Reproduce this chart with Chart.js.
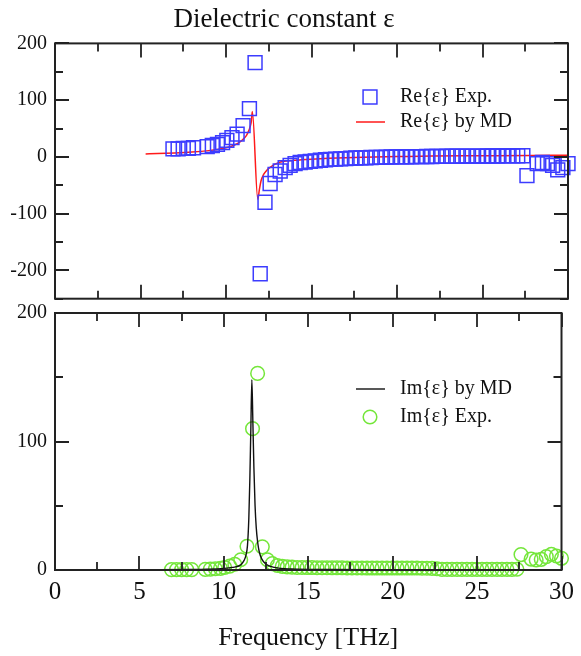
<!DOCTYPE html>
<html>
<head>
<meta charset="utf-8">
<script src="https://cdn.jsdelivr.net/npm/chart.js@4/dist/chart.umd.min.js"></script>
<style>
  body { margin: 0; background: #fff; }
  #wrap { position: relative; width: 581px; height: 656px; }
  canvas { position: absolute; left: 0; }
  #reChart { top: 0; }
  #imChart { top: 300px; }
</style>
</head>
<body>
<div id="wrap">
  <canvas id="imChart" width="581" height="356"></canvas>
  <canvas id="reChart" width="581" height="310"></canvas>
</div>
<script>
// experimental points (same frequencies for Re and Im)
const expFreq = [
  6.9, 7.2, 7.5, 7.8, 8.1,
  8.9, 9.2, 9.5, 9.8, 10.05, 10.35, 10.65, 11.0, 11.37, 11.7, 12.0, 12.28, 12.58,
  12.87, 13.17, 13.46, 13.75, 14.04,
  14.34, 14.63, 14.93, 15.22, 15.52, 15.82, 16.11, 16.41, 16.7, 17.0, 17.3, 17.59,
  17.89, 18.18, 18.48, 18.78, 19.07, 19.37, 19.66, 19.96, 20.26, 20.55, 20.85, 21.14,
  21.44, 21.74, 22.03, 22.33, 22.62, 22.92, 23.22, 23.51, 23.81, 24.1, 24.4, 24.7,
  24.99, 25.29, 25.58, 25.88, 26.18, 26.47, 26.77, 27.06, 27.36,
  27.6, 28.2, 28.5, 28.8, 29.1, 29.4, 29.7, 30.0
];
const reExp = [
  14, 14, 15, 15, 16,
  18, 20, 22, 25, 29, 34, 40, 55, 85, 166, -206, -80, -47,
  -31, -25, -19, -15, -12,
  -10, -9, -8, -7, -6, -5, -4.5, -4, -3.5, -3, -2.5, -2,
  -1.8, -1.5, -1.2, -1, -0.8, -0.5, -0.3, 0, 0, 0.2, 0.3, 0.4,
  0.5, 0.6, 0.7, 0.8, 0.9, 1, 1, 1.1, 1.2, 1.2, 1.3, 1.4,
  1.4, 1.5, 1.5, 1.6, 1.7, 1.8, 1.8, 1.9, 2,
  -33, -12, -10, -12, -15, -23, -19, -12
];
const imExp = [
  0.3, 0.3, 0.3, 0.3, 0.3,
  0.5, 0.7, 1, 1.3, 2, 3, 4.5, 8, 18.5, 110, 153, 18, 8,
  5, 3.5, 2.8, 2.4, 2.2,
  2, 2, 1.9, 1.9, 1.8, 1.8, 1.8, 1.7, 1.7, 1.7, 1.6, 1.6,
  1.6, 1.6, 1.5, 1.5, 1.5, 1.5, 1.5, 1.5, 1.5, 1.5, 1.5, 1.5,
  1.5, 1.4, 1.4, 1.3, 1.0, 0.5, 0.5, 0.5, 0.5, 0.5, 0.5, 0.5,
  0.5, 0.5, 0.5, 0.5, 0.5, 0.5, 0.5, 0.5, 0.6,
  12, 8.5, 7.8, 8.3, 10.4, 12.2, 10.9, 9.1
];

// MD curves
const reMdFreq = [5.3, 6, 7, 8, 9, 9.5, 10, 10.5, 10.8, 11, 11.2, 11.3, 11.4, 11.48, 11.54,
  11.86, 11.95, 12.05, 12.2, 12.4, 12.6, 13, 13.5, 14, 15, 16, 18, 20, 22, 25, 28, 30];
const reMd = [5, 6, 7, 8.5, 11, 13, 16, 21, 26, 31, 38, 44, 52, 62, 80,
  -75, -58, -42, -31, -23, -18, -11, -7.5, -6, -4, -2.5, -0.5, 0.5, 1.5, 2, 2.5, 2.8];
const imMdFreq = [5.3, 8, 9, 10, 10.5, 11, 11.2, 11.3, 11.4, 11.48, 11.54, 11.6, 11.66, 11.72,
  11.78, 11.85, 11.92, 12.0, 12.1, 12.25, 12.5, 13, 14, 16, 20, 25, 30];
const imMd = [0.2, 0.4, 0.6, 1.2, 2, 4, 7.5, 11, 19, 40, 70, 110, 148, 115,
  80, 50, 33, 22, 14, 8.5, 4.5, 2, 0.8, 0.4, 0.2, 0.1, 0.1];

// axes
const freqTicks = [0, 5, 10, 15, 20, 25, 30];
const freqMinor = [2.5, 7.5, 12.5, 17.5, 22.5, 27.5];
const reTicks = [-200, -100, 0, 100, 200];
const reMinor = [-250, -150, -50, 50, 150];
const imTicks = [0, 100, 200];
const imMinor = [50, 150];

const SERIF = "'Liberation Serif', 'Times New Roman', serif";
const INK = "#111";

function toPoints(xs, ys) {
  return xs.map((x, i) => ({ x, y: ys[i] }));
}

// closed box with inward ticks on all four sides
const framePlugin = {
  id: "frame",
  afterDraw(chart, args, opts) {
    const { ctx, chartArea: a, scales } = chart;
    ctx.save();
    ctx.strokeStyle = "#222";
    ctx.lineWidth = 1.8;
    ctx.beginPath();
    const xTick = (v, len) => {
      const px = Math.round(scales.x.getPixelForValue(v));
      ctx.moveTo(px, a.bottom);
      ctx.lineTo(px, a.bottom - len);
      ctx.moveTo(px, a.top);
      ctx.lineTo(px, a.top + len);
    };
    const yTick = (v, len) => {
      const py = Math.round(scales.y.getPixelForValue(v));
      ctx.moveTo(a.left, py);
      ctx.lineTo(a.left + len, py);
      ctx.moveTo(a.right, py);
      ctx.lineTo(a.right - len, py);
    };
    opts.xMajor.forEach((v) => xTick(v, 14));
    opts.xMinor.forEach((v) => xTick(v, 8));
    opts.yMajor.forEach((v) => yTick(v, 14));
    opts.yMinor.forEach((v) => yTick(v, 8));
    ctx.stroke();
    ctx.lineWidth = 2;
    ctx.strokeRect(a.left, a.top, a.right - a.left, a.bottom - a.top);
    ctx.restore();
  },
};

// legend drawn inside the plot box
const boxLegendPlugin = {
  id: "boxLegend",
  afterDraw(chart, args, opts) {
    const ctx = chart.ctx;
    ctx.save();
    ctx.font = `20px ${SERIF}`;
    ctx.textBaseline = "middle";
    opts.rows.forEach((row) => {
      const ds = chart.data.datasets[row.dataset];
      const cx = opts.markerX;
      ctx.strokeStyle = ds.borderColor;
      ctx.lineWidth = ds.borderWidth;
      ctx.beginPath();
      if (ds.showLine) {
        ctx.moveTo(cx - 14, row.y);
        ctx.lineTo(cx + 15, row.y);
      } else if (ds.pointStyle === "rect") {
        const h = ds.pointRadius * Math.SQRT1_2;
        ctx.rect(cx - h, row.y - h, 2 * h, 2 * h);
      } else {
        ctx.arc(cx, row.y, ds.pointRadius, 0, Math.PI * 2);
      }
      ctx.stroke();
      ctx.fillStyle = INK;
      ctx.fillText(ds.label, opts.textX, row.y);
    });
    ctx.restore();
  },
};

function yScale(min, max, ticks, fixedWidth) {
  return {
    type: "linear",
    min,
    max,
    afterBuildTicks: (s) => {
      s.ticks = ticks.map((v) => ({ value: v }));
    },
    afterFit: (s) => {
      s.width = fixedWidth;
      s.paddingTop = 0;
      s.paddingBottom = 0;
    },
    grid: { display: false, drawTicks: false },
    border: { display: false },
    ticks: {
      color: INK,
      padding: 8,
      font: { family: SERIF, size: 20 },
    },
  };
}

new Chart(document.getElementById("reChart"), {
  type: "scatter",
  data: {
    datasets: [
      {
        label: "Re{ε} Exp.",
        data: toPoints(expFreq, reExp),
        pointStyle: "rect",
        pointRadius: 9.8,
        borderWidth: 1.5,
        borderColor: "#3c3cff",
        backgroundColor: "rgba(0,0,0,0)",
        clip: false,
      },
      {
        type: "line",
        label: "Re{ε} by MD",
        data: toPoints(reMdFreq, reMd),
        showLine: true,
        pointRadius: 0,
        borderWidth: 1.5,
        borderColor: "#ff1a1a",
        cubicInterpolationMode: "monotone",
        fill: false,
      },
    ],
  },
  options: {
    responsive: false,
    animation: false,
    events: [],
    layout: { padding: { left: 0, right: 13, top: 0, bottom: 0 } },
    scales: {
      x: {
        type: "linear",
        min: 0,
        max: 30,
        afterFit: (s) => {
          s.height = 11;
        },
        grid: { display: false, drawTicks: false },
        border: { display: false },
        ticks: { display: false },
      },
      y: yScale(-250, 200, reTicks, 55),
    },
    plugins: {
      legend: { display: false },
      tooltip: { enabled: false },
      title: {
        display: true,
        text: "Dielectric constant ε",
        color: INK,
        font: { family: SERIF, size: 27, weight: "normal" },
        padding: { top: 4, bottom: 7 },
      },
      frame: { xMajor: freqTicks, xMinor: freqMinor, yMajor: reTicks, yMinor: reMinor },
      boxLegend: { markerX: 370, textX: 400, rows: [{ dataset: 0, y: 97 }, { dataset: 1, y: 122 }] },
    },
  },
  plugins: [framePlugin, boxLegendPlugin],
});

new Chart(document.getElementById("imChart"), {
  type: "scatter",
  data: {
    datasets: [
      {
        type: "line",
        label: "Im{ε} by MD",
        data: toPoints(imMdFreq, imMd),
        showLine: true,
        pointRadius: 0,
        borderWidth: 1.4,
        borderColor: "#111",
        cubicInterpolationMode: "monotone",
        fill: false,
      },
      {
        label: "Im{ε} Exp.",
        data: toPoints(expFreq, imExp),
        pointStyle: "circle",
        pointRadius: 6.8,
        borderWidth: 1.5,
        borderColor: "#74e63a",
        backgroundColor: "rgba(0,0,0,0)",
        clip: false,
      },
    ],
  },
  options: {
    responsive: false,
    animation: false,
    events: [],
    layout: { padding: { left: 0, right: 13, top: 13, bottom: 0 } },
    scales: {
      x: {
        type: "linear",
        min: 0,
        max: 30,
        afterBuildTicks: (s) => {
          s.ticks = freqTicks.map((v) => ({ value: v }));
        },
        afterFit: (s) => {
          s.height = 86;
        },
        grid: { display: false, drawTicks: false },
        border: { display: false },
        ticks: {
          color: INK,
          padding: 7,
          autoSkip: false,
          maxRotation: 0,
          font: { family: SERIF, size: 25 },
        },
        title: {
          display: true,
          text: "Frequency [THz]",
          color: INK,
          font: { family: SERIF, size: 26 },
          padding: { top: 0, bottom: 2 },
        },
      },
      y: yScale(0, 200, imTicks, 55),
    },
    plugins: {
      legend: { display: false },
      tooltip: { enabled: false },
      frame: { xMajor: freqTicks, xMinor: freqMinor, yMajor: imTicks, yMinor: imMinor },
      boxLegend: { markerX: 370, textX: 400, rows: [{ dataset: 0, y: 89 }, { dataset: 1, y: 117 }] },
    },
  },
  plugins: [framePlugin, boxLegendPlugin],
});
</script>
</body>
</html>
